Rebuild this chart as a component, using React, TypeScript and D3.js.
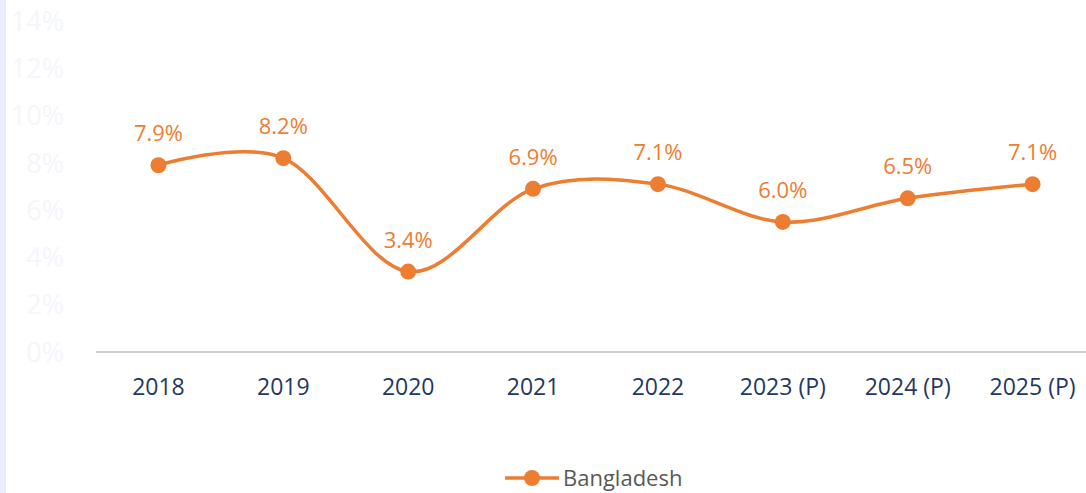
import React, { useEffect, useRef } from "react";
import * as d3 from "d3";

const years = ["2018", "2019", "2020", "2021", "2022", "2023 (P)", "2024 (P)", "2025 (P)"];
const growth = [7.9, 8.2, 3.4, 6.9, 7.1, 5.5, 6.5, 7.1];
const growthLabels = ["7.9%", "8.2%", "3.4%", "6.9%", "7.1%", "6.0%", "6.5%", "7.1%"];
const yTicks = [0, 2, 4, 6, 8, 10, 12, 14];
const seriesName = "Bangladesh";

const W = 1086;
const H = 493;
const ORANGE = "#ED7D31";
const FONT = "'Open Sans', 'Noto Sans', sans-serif";

export default function App() {
  const ref = useRef<SVGSVGElement>(null);

  useEffect(() => {
    const svg = d3.select(ref.current);
    svg.selectAll("*").remove();

    const x = d3.scaleBand().domain(years).range([96, 1095]);
    const y = d3.scaleLinear().domain([0, 14]).range([352, 21]);
    const cx = (d: string) => (x(d) as number) + x.bandwidth() / 2;

    // left strip
    svg.append("rect").attr("x", 0).attr("y", 0).attr("width", 6).attr("height", H).attr("fill", "#e9edfc");

    // faint y labels
    svg
      .append("g")
      .selectAll("text")
      .data(yTicks)
      .join("text")
      .attr("x", 64)
      .attr("y", (d) => y(d))
      .attr("dy", "0.36em")
      .attr("text-anchor", "end")
      .style("font-family", FONT)
      .style("font-size", "27px")
      .style("fill", "#f4f6fc")
      .text((d) => `${d}%`);

    // x axis line
    svg
      .append("line")
      .attr("x1", 96)
      .attr("x2", W)
      .attr("y1", y(0))
      .attr("y2", y(0))
      .attr("stroke", "#d0d0d0")
      .attr("stroke-width", 2);

    svg
      .append("g")
      .selectAll("text")
      .data(years)
      .join("text")
      .attr("x", (d) => cx(d))
      .attr("y", 387)
      .attr("dy", "0.36em")
      .attr("text-anchor", "middle")
      .style("font-family", FONT)
      .style("font-size", "23px")
      .style("fill", "#1f3864")
      .text((d) => d);

    const pts = years.map((d, i) => [cx(d), y(growth[i])] as [number, number]);

    const line = d3.line().curve(d3.curveCardinal.tension(0));
    svg
      .append("path")
      .attr("d", line(pts))
      .attr("fill", "none")
      .attr("stroke", ORANGE)
      .attr("stroke-width", 3.5);

    svg
      .append("g")
      .selectAll("circle")
      .data(pts)
      .join("circle")
      .attr("cx", (d) => d[0])
      .attr("cy", (d) => d[1])
      .attr("r", 8)
      .attr("fill", ORANGE);

    svg
      .append("g")
      .selectAll("text")
      .data(pts)
      .join("text")
      .attr("x", (d) => d[0])
      .attr("y", (d) => d[1] - 32)
      .attr("dy", "0.36em")
      .attr("text-anchor", "middle")
      .style("font-family", FONT)
      .style("font-size", "22px")
      .style("fill", ORANGE)
      .text((d, i) => growthLabels[i]);

    // legend
    const lg = svg.append("g").attr("transform", "translate(505,478)");
    lg.append("line").attr("x1", 0).attr("x2", 54).attr("stroke", ORANGE).attr("stroke-width", 3.5);
    lg.append("circle").attr("cx", 27).attr("r", 8).attr("fill", ORANGE);
    lg.append("text")
      .attr("x", 58)
      .attr("dy", "0.36em")
      .style("font-family", FONT)
      .style("font-size", "22px")
      .style("fill", "#595959")
      .text(seriesName);
  }, []);

  return (
    <div style={{ position: "absolute", left: 0, top: 0 }}>
      <svg ref={ref} width={W} height={H} style={{ display: "block", background: "#fff" }} />
    </div>
  );
}
